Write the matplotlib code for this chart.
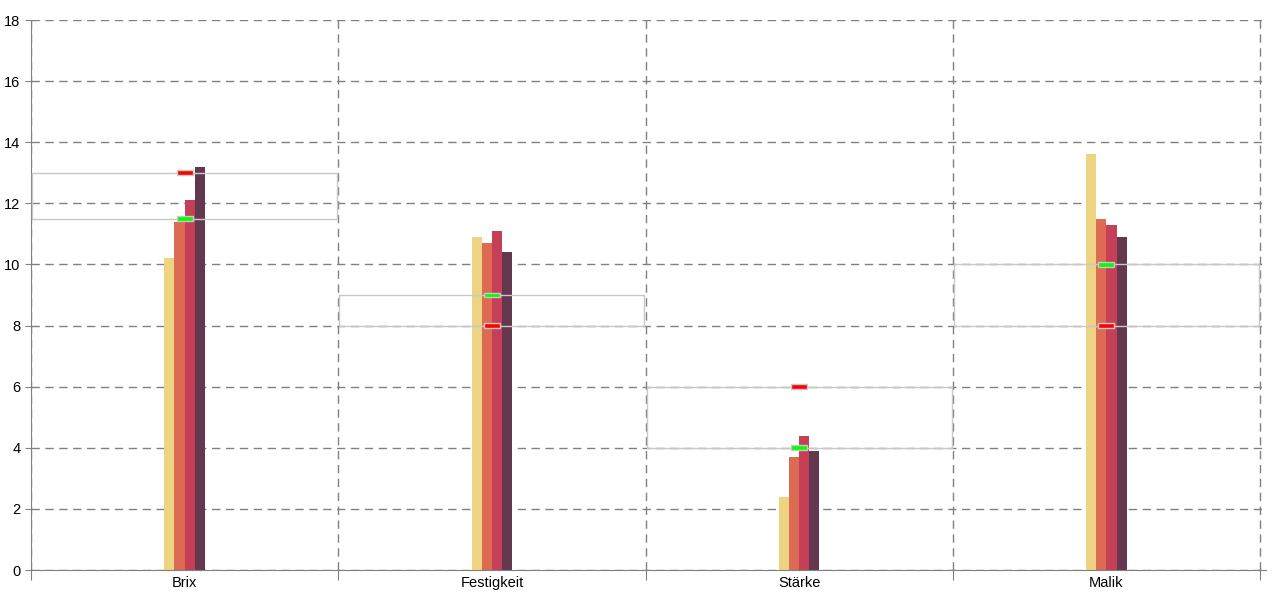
import matplotlib.pyplot as plt
from matplotlib.patches import Rectangle
import numpy as np

plt.rcParams['font.family'] = ['Liberation Sans', 'DejaVu Sans']

categories = ['Brix', 'Festigkeit', 'Stärke', 'Malik']
series_a = [10.2, 10.9, 2.4, 13.6]
series_b = [11.4, 10.7, 3.7, 11.5]
series_c = [12.1, 11.1, 4.4, 11.3]
series_d = [13.2, 10.4, 3.9, 10.9]
target_green = [11.5, 9.0, 4.0, 10.0]
target_red = [13.0, 8.0, 6.0, 8.0]

colors = ['#edd382', '#dd6b53', '#c53f57', '#63374d']

n = len(categories)
cat_px = 307.25
extra = 6 / cat_px

fig = plt.figure(figsize=(12.8, 6), dpi=100)
ax = fig.add_axes([31/1280, 30/600, (n * cat_px + 6)/1280, 550/600])

bw = 0.033
centers = np.arange(n) + 0.5
for k, vals in enumerate([series_a, series_b, series_c, series_d]):
    ax.bar(centers + (k - 1.5) * bw, vals, width=bw, color=colors[k], zorder=2)

# target ranges
for i in range(n):
    lo = min(target_green[i], target_red[i])
    hi = max(target_green[i], target_red[i])
    ax.add_patch(Rectangle((i + 0.004, lo), 0.992, hi - lo, fill=False,
                           edgecolor='#c8c8c8', lw=1, zorder=3))
    for v, c in [(target_green[i], '#00ff00'), (target_red[i], '#ff0000')]:
        ax.add_patch(Rectangle((centers[i] - 0.026, v - 0.08), 0.052, 0.16,
                               facecolor=c, edgecolor='#c8c8c8', lw=1, zorder=4))

ax.set_xlim(0, n + extra)
ax.set_ylim(0, 18)
ax.set_yticks(range(0, 19, 2))
ax.set_xticks(range(0, n + 1))
ax.set_xticklabels([])
ax.set_xticks(centers, minor=True)
ax.set_xticklabels(categories, minor=True)
ax.tick_params(axis='x', which='major', length=7, color='#808080')
ax.tick_params(axis='x', which='minor', length=0, pad=4, labelsize=10.5)
ax.tick_params(axis='y', length=4, color='#808080', labelsize=10.5)

ax.grid(True, which='major', linestyle=(0, (6, 4)), color='#808080', lw=1, zorder=0)
ax.set_axisbelow(True)
for s in ['top', 'right']:
    ax.spines[s].set_visible(False)
for s in ['left', 'bottom']:
    ax.spines[s].set_color('#808080')

fig.savefig('out.png', dpi=100)
